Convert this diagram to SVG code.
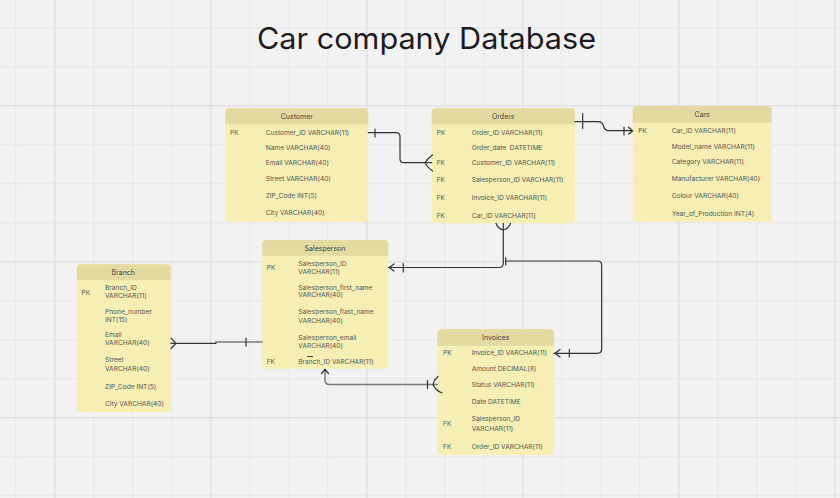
<svg xmlns="http://www.w3.org/2000/svg" width="840" height="498" viewBox="0 0 840 498">
<defs>
<pattern id="minor" x="15.3" y="27.3" width="39" height="39" patternUnits="userSpaceOnUse">
<path d="M0.5,0 V39 M0,0.5 H39" fill="none" stroke="#e6e6e6" stroke-width="1"/>
</pattern>
<pattern id="major" x="54.3" y="105.3" width="156" height="156" patternUnits="userSpaceOnUse">
<path d="M0.5,0 V156 M0,0.5 H156" fill="none" stroke="#dddddd" stroke-width="1"/>
</pattern>
<style>
.body{fill:#f6eeb3;}
.head{fill:#e3daa2;}
.t{font-family:Inter,"Liberation Sans",sans-serif;font-size:6.6px;fill:#555;dominant-baseline:central;white-space:pre;}
.h{font-family:Inter,"Liberation Sans",sans-serif;font-size:7px;fill:#444;dominant-baseline:central;text-anchor:middle;}
.c{fill:none;stroke:#333;stroke-width:1.2;stroke-linecap:round;stroke-linejoin:round;}
.g{fill:none;stroke:#7a7a7a;stroke-width:1.5;stroke-linecap:round;stroke-linejoin:round;}
</style>
</defs>
<rect width="840" height="498" fill="#f2f2f2"/>
<rect width="840" height="498" fill="url(#minor)"/>
<rect width="840" height="498" fill="url(#major)"/>

<text x="426.5" y="49" text-anchor="middle" font-family="Inter,'Liberation Sans',sans-serif" font-size="29.5" fill="#1c1c1c" textLength="339" lengthAdjust="spacingAndGlyphs">Car company Database</text>

<g id="customer">
<rect class="body" x="225.3" y="108.3" width="143" height="113.4" rx="4"/>
<path class="head" d="M225.3,124.3 V112.3 Q225.3,108.3 229.3,108.3 H364.3 Q368.3,108.3 368.3,112.3 V124.3 Z"/>
<text class="h" x="296.8" y="116.5">Customer</text>
<text class="t" x="230" y="132.7">PK</text>
<text class="t" x="265.7" y="132.7">Customer_ID VARCHAR(11)</text>
<text class="t" x="265.7" y="148.3">Name VARCHAR(40)</text>
<text class="t" x="265.7" y="163.3">Email VARCHAR(40)</text>
<text class="t" x="265.7" y="179.3">Street VARCHAR(40)</text>
<text class="t" x="265.7" y="196">ZIP_Code INT(5)</text>
<text class="t" x="265.7" y="213.3">City VARCHAR(40)</text>
</g>

<g id="orders">
<rect class="body" x="431.7" y="108.3" width="143.3" height="115" rx="4"/>
<path class="head" d="M431.7,124.3 V112.3 Q431.7,108.3 435.7,108.3 H571 Q575,108.3 575,112.3 V124.3 Z"/>
<text class="h" x="503.3" y="116.5">Orders</text>
<text class="t" x="436.7" y="132.7">PK</text>
<text class="t" x="471.7" y="132.7">Order_ID VARCHAR(11)</text>
<text class="t" x="471.7" y="148.3">Order_date  DATETIME</text>
<text class="t" x="436.7" y="163.3">FK</text>
<text class="t" x="471.7" y="163.3">Customer_ID VARCHAR(11)</text>
<text class="t" x="436.7" y="180">FK</text>
<text class="t" x="471.7" y="180">Salesperson_ID VARCHAR(11)</text>
<text class="t" x="436.7" y="197.7">FK</text>
<text class="t" x="471.7" y="197.7">Invoice_ID VARCHAR(11)</text>
<text class="t" x="436.7" y="215.7">FK</text>
<text class="t" x="471.7" y="215.7">Car_ID VARCHAR(11)</text>
</g>

<g id="cars">
<rect class="body" x="632.7" y="106" width="139" height="115.7" rx="4"/>
<path class="head" d="M632.7,122.7 V110 Q632.7,106 636.7,106 H767.7 Q771.7,106 771.7,110 V122.7 Z"/>
<text class="h" x="702.3" y="114.5">Cars</text>
<text class="t" x="638.3" y="131">PK</text>
<text class="t" x="671.7" y="131">Car_ID VARCHAR(11)</text>
<text class="t" x="671.7" y="146.7">Model_name VARCHAR(11)</text>
<text class="t" x="671.7" y="162">Category VARCHAR(11)</text>
<text class="t" x="671.7" y="179">Manufacturer VARCHAR(40)</text>
<text class="t" x="671.7" y="196.3">Colour VARCHAR(40)</text>
<text class="t" x="671.7" y="213.7">Year_of_Production INT(4)</text>
</g>

<g id="salesperson">
<rect class="body" x="262.3" y="240" width="126" height="128.7" rx="4"/>
<path class="head" d="M262.3,255.7 V244 Q262.3,240 266.3,240 H384.3 Q388.3,240 388.3,244 V255.7 Z"/>
<text class="h" x="325" y="248">Salesperson</text>
<text class="t" x="266.7" y="267.7">PK</text>
<text class="t" x="298.3" y="264">Salesperson_ID</text>
<text class="t" x="298.3" y="271.7">VARCHAR(11)</text>
<text class="t" x="298.3" y="287.7">Salesperson_first_name</text>
<text class="t" x="298.3" y="295.3">VARCHAR(40)</text>
<text class="t" x="298.3" y="312">Salesperson_flast_name</text>
<text class="t" x="298.3" y="321">VARCHAR(40)</text>
<text class="t" x="298.3" y="338">Salesperson_email</text>
<text class="t" x="298.3" y="345.7">VARCHAR(40)</text>
<text class="t" x="266.7" y="361.7">FK</text>
<text class="t" x="298.3" y="361.7">Branch_ID VARCHAR(11)</text>
<path d="M307,356.5 H313" stroke="#333" stroke-width="0.9"/>
</g>

<g id="branch">
<rect class="body" x="76.7" y="264.3" width="94" height="148" rx="4"/>
<path class="head" d="M76.7,280.3 V268.3 Q76.7,264.3 80.7,264.3 H166.7 Q170.7,264.3 170.7,268.3 V280.3 Z"/>
<text class="h" x="123.3" y="272.3">Branch</text>
<text class="t" x="81.5" y="292.7">PK</text>
<text class="t" x="105" y="288.3">Branch_ID</text>
<text class="t" x="105" y="296.3">VARCHAR(11)</text>
<text class="t" x="105" y="312">Phone_number</text>
<text class="t" x="105" y="319.7">INT(15)</text>
<text class="t" x="105" y="335.3">Email</text>
<text class="t" x="105" y="343">VARCHAR(40)</text>
<text class="t" x="105" y="359.7">Street</text>
<text class="t" x="105" y="369.3">VARCHAR(40)</text>
<text class="t" x="105" y="387">ZIP_Code INT(5)</text>
<text class="t" x="105" y="404.3">City VARCHAR(40)</text>
</g>

<g id="invoices">
<rect class="body" x="437.3" y="329.3" width="116.7" height="125.7" rx="4"/>
<path class="head" d="M437.3,345.7 V333.3 Q437.3,329.3 441.3,329.3 H550 Q554,329.3 554,333.3 V345.7 Z"/>
<text class="h" x="495.7" y="337.5">Invoices</text>
<text class="t" x="443" y="353.3">PK</text>
<text class="t" x="471.7" y="353.3">Invoice_ID VARCHAR(11)</text>
<text class="t" x="471.7" y="369.3">Amount DECIMAL(8)</text>
<text class="t" x="471.7" y="385">Status VARCHAR(11)</text>
<text class="t" x="471.7" y="401.7">Date DATETIME</text>
<text class="t" x="443" y="424">FK</text>
<text class="t" x="471.7" y="419">Salesperson_ID</text>
<text class="t" x="471.7" y="428.7">VARCHAR(11)</text>
<text class="t" x="443" y="446.7">FK</text>
<text class="t" x="471.7" y="446.7">Order_ID VARCHAR(11)</text>
</g>

<g id="connectors">
<!-- Customer - Orders -->
<path class="c" d="M368.3,132.7 H396 Q400,132.7 400,136.7 V158.7 Q400,162.7 404,162.7 H431.7"/>
<path class="c" d="M375,129 V137"/>
<path class="c" d="M432.5,155 Q427,159 425,162.7 Q427,167 432.5,171"/>
<!-- Orders - Cars -->
<path class="c" d="M575,121.7 H598 Q602.5,121.7 603.5,126 Q604.5,130.7 609,130.7 H632.7"/>
<path class="c" d="M582.7,113.5 V128.5" stroke-width="2"/>
<path class="c" d="M624,127 V135"/>
<path class="c" d="M628.5,127.2 L632.5,130.7 L628.5,134.2"/>
<!-- Orders - Salesperson -->
<path class="c" d="M503.3,223.3 V263 Q503.3,267.5 499,267.5 H388.3"/>
<path class="c" d="M496,223.3 Q498,229 503.3,230 Q508.5,229 510.5,223.3"/>
<path class="c" d="M403.3,263.5 V272"/>
<path class="c" d="M394,264 L389.3,267.5 L394,271"/>
<!-- Orders - Invoices -->
<path class="c" d="M505.7,261 H597.5 Q601.7,261 601.7,265.2 V349 Q601.7,353.3 597.5,353.3 H554"/>
<path class="c" d="M505.7,257.5 V265"/>
<path class="c" d="M569.3,349.5 V357"/>
<path class="c" d="M560,349.5 L555,353.3 L560,357"/>
<!-- Branch - Salesperson -->
<path class="c" d="M175.5,343.3 H216 V342.2"/>
<path class="g" d="M216,342 H262.3"/>
<path class="c" d="M246,338 V346"/>
<path class="c" d="M171,338.2 L176,343.3 L171,348.5 M171,343.3 H176"/>
<!-- Invoices - Salesperson -->
<path class="g" d="M437.3,384.5 H329.5 Q325,384.5 325,380 V369.5"/>
<path class="c" d="M321.5,373.5 L325,369.5 L328.5,373.5"/>
<path class="c" d="M427.5,380.5 V388.5"/>
<path class="c" d="M438,376.5 Q434,380 433,384.5 Q435,390 442,393"/>
</g>
</svg>
